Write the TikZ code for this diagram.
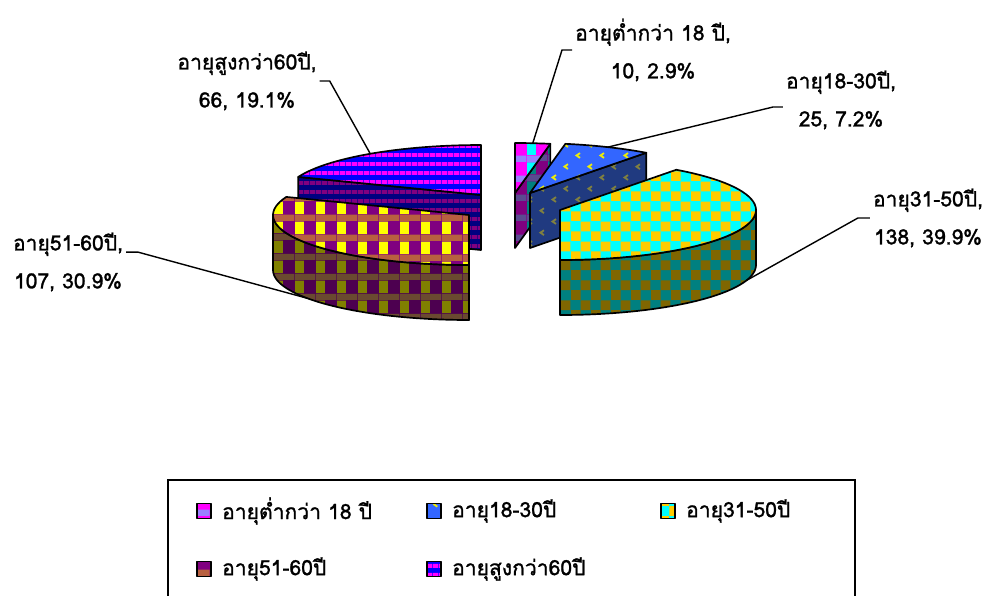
\documentclass[tikz,border=0pt]{standalone}
\usepackage{fontspec}
\setmainfont[Script=Thai]{Loma}
\newfontfamily\thaifont[Script=Thai, FakeBold=1.2]{Loma}
\usetikzlibrary{positioning, patterns.meta}

\definecolor{mag}{HTML}{FF00FF}
\definecolor{cyn}{HTML}{00FFFF}
\definecolor{lav}{HTML}{9A80FF}
\definecolor{purp}{HTML}{800080}
\definecolor{tealc}{HTML}{008080}
\definecolor{dkmix}{HTML}{5A4A90}
\definecolor{blu}{HTML}{3366FF}
\definecolor{navyb}{HTML}{203A80}
\definecolor{ylw}{HTML}{FFFF00}
\definecolor{oliv}{HTML}{808040}
\definecolor{gold}{HTML}{FFCC00}
\definecolor{brwn}{HTML}{806600}
\definecolor{rose}{HTML}{B86040}
\definecolor{dkpurp}{HTML}{4D0050}
\definecolor{olive2}{HTML}{808000}
\definecolor{mud}{HTML}{6A4A30}
\definecolor{blue2}{HTML}{0000FF}
\definecolor{navy2}{HTML}{000080}

% fill textures
\tikzdeclarepattern{name=checks, bottom left={(0pt,0pt)}, top right={(14pt,14pt)},
  tile size={(14pt,14pt)},
  code={\tikzset{x=1pt,y=1pt} \fill (0,0) rectangle (7,7); \fill (7,7) rectangle (14,14);}}
\tikzdeclarepattern{name=bands, bottom left={(0pt,0pt)}, top right={(4pt,6.5pt)},
  tile size={(4pt,6.5pt)},
  code={\tikzset{x=1pt,y=1pt} \fill (0,0) rectangle (4,3);}}
\tikzdeclarepattern{name=blocks, bottom left={(0pt,0pt)}, top right={(15pt,14pt)},
  tile size={(15pt,14pt)},
  code={\tikzset{x=1pt,y=1pt} \fill (0,5) rectangle (6.5,14);}}
\tikzdeclarepattern{name=dband, bottom left={(0pt,0pt)}, top right={(15pt,14pt)},
  tile size={(15pt,14pt)},
  code={\tikzset{x=1pt,y=1pt} \fill (0,0) rectangle (15,4.5);}}
\tikzdeclarepattern{name=marks, bottom left={(0pt,0pt)}, top right={(17pt,15.5pt)},
  tile size={(17pt,15.5pt)},
  code={\tikzset{x=1pt,y=1pt}
    \draw[line width=1.3pt] (5,0.8) -- (2.5,2.5) -- (5,4.2);
    \draw[line width=1.3pt] (13.5,8.55) -- (11,10.25) -- (13.5,11.95);}}

\tikzset{
  face/.style={draw=black, line width=1.2pt, line join=round},
  top1/.style={face, preaction={fill=mag}, preaction={pattern=blocks, pattern color=cyn},
    preaction={pattern=dband, pattern color=lav}},
  side1/.style={face, preaction={fill=purp}, preaction={pattern=blocks, pattern color=tealc},
    preaction={pattern=dband, pattern color=dkmix}},
  top2/.style={face, preaction={fill=blu}, preaction={pattern=marks, pattern color=ylw!85!oliv}},
  side2/.style={face, preaction={fill=navyb}, preaction={pattern=marks, pattern color=oliv}},
  top3/.style={face, preaction={fill=cyn}, preaction={pattern=checks, pattern color=gold}},
  side3/.style={face, preaction={fill=tealc}, preaction={pattern=checks, pattern color=brwn}},
  top4/.style={face, preaction={fill=purp}, preaction={pattern=blocks, pattern color=ylw},
    preaction={pattern=dband, pattern color=rose}},
  side4/.style={face, preaction={fill=dkpurp}, preaction={pattern=blocks, pattern color=olive2},
    preaction={pattern=dband, pattern color=mud}},
  top5/.style={face, preaction={fill=blue2}, preaction={pattern=bands, pattern color=mag}},
  side5/.style={face, preaction={fill=navy2}, preaction={pattern=bands, pattern color=purp}},
  lbl/.style={align=center, inner sep=2pt, font=\thaifont\fontsize{15}{27}\selectfont},
  lead/.style={line width=1pt},
  swatch/.style={rectangle, minimum width=0.35cm, minimum height=0.38cm, inner sep=0pt, line width=1pt},
  legtxt/.style={inner sep=0pt, font=\thaifont\fontsize{15}{17}\selectfont}
}

\def\rx{196}
\def\ry{50}
\def\dep{55}

\begin{document}
\begin{tikzpicture}[x=0.025cm, y=-0.025cm]
\useasboundingbox (0,0) rectangle (990,595);

% slices, back to front
% over 60
\path[side5] (481,195) -- ({481+\rx*sin(-68.8)},{195-\ry*cos(-68.8)}) -- ++(0,\dep) -- (481,250) -- cycle;
\path[top5] (481,195) -- plot[domain=-68.8:0, samples=30] ({481+\rx*sin(\x)},{195-\ry*cos(\x)}) -- cycle;
% under 18
\path[side1] (515,193) -- ({515+\rx*sin(10.4)},{193-\ry*cos(10.4)}) -- ++(0,\dep) -- (515,248) -- cycle;
\path[top1] (515,193) -- plot[domain=0:10.4, samples=8] ({515+\rx*sin(\x)},{193-\ry*cos(\x)}) -- cycle;
% 18-30
\path[side2] (530,193) -- ({530+\rx*sin(36.4)},{193-\ry*cos(36.4)}) -- ++(0,\dep) -- (530,248) -- cycle;
\path[top2] (530,193) -- plot[domain=10.4:36.4, samples=15] ({530+\rx*sin(\x)},{193-\ry*cos(\x)}) -- cycle;
% 31-50
\path[side3] plot[domain=90:180, samples=40] ({560+\rx*sin(\x)},{210-\ry*cos(\x)})
  -- plot[domain=180:90, samples=40] ({560+\rx*sin(\x)},{210+\dep-\ry*cos(\x)}) -- cycle;
\path[top3] (560,210) -- plot[domain=36.4:180, samples=50] ({560+\rx*sin(\x)},{210-\ry*cos(\x)}) -- cycle;
% 51-60
\path[side4] plot[domain=180:270, samples=40] ({469+\rx*sin(\x)},{215-\ry*cos(\x)})
  -- plot[domain=270:180, samples=40] ({469+\rx*sin(\x)},{215+\dep-\ry*cos(\x)}) -- cycle;
\path[top4] (469,215) -- plot[domain=180:291.2, samples=40] ({469+\rx*sin(\x)},{215-\ry*cos(\x)}) -- cycle;

% leader ends on the slices
\coordinate (p1) at ({515+\rx*sin(5.2)},{193-\ry*cos(5.2)});
\coordinate (p2) at ({530+\rx*sin(23.4)},{193-\ry*cos(23.4)});
\coordinate (p3) at ({560+\rx*sin(108)},{210+\dep-\ry*cos(108)});
\coordinate (p4) at ({469+\rx*sin(235.6)},{215+\dep-\ry*cos(235.6)});
\coordinate (p5) at ({481+\rx*sin(325.6)},{195-\ry*cos(325.6)});

% data labels
\node[lbl] (l1) at (653,50) {อายุต่ำกว่า 18 ปี,\\10, 2.9\%};
\node[lbl] (l2) at (841,100) {อายุ18-30ปี,\\25, 7.2\%};
\node[lbl] (l3) at (928,218) {อายุ31-50ปี,\\138, 39.9\%};
\node[lbl] (l4) at (68,262) {อายุ51-60ปี,\\107, 30.9\%};
\node[lbl] (l5) at (247,81) {อายุสูงกว่า60ปี,\\66, 19.1\%};
\draw[lead] (l1.west) -- ++(-10,0) -- (p1);
\draw[lead] ([yshift=-5pt]l2.west) -- ++(-10,0) -- (p2);
\draw[lead] (l3.west) -- ++(-12,0) -- (p3);
\draw[lead] ([yshift=7pt]l4.east) -- ++(12,0) -- (p4);
\draw[lead] (l5.east) -- ++(10,0) -- (p5);

% legend
\draw[line width=1.3pt] (168,480) rectangle (855,620);
\node[swatch, top1] (s1) at (204,511) {};
\node[legtxt, right=0.25cm of s1] (t1) {อายุต่ำกว่า 18 ปี};
\node[swatch, top2] (s2) at (434,511) {};
\node[legtxt, right=0.25cm of s2] (t2) {อายุ18-30ปี};
\node[swatch, top3] (s3) at (668,511) {};
\node[legtxt, right=0.25cm of s3] (t3) {อายุ31-50ปี};
\node[swatch, top4] (s4) at (204,569) {};
\node[legtxt, right=0.25cm of s4] (t4) {อายุ51-60ปี};
\node[swatch, top5] (s5) at (434,569) {};
\node[legtxt, right=0.25cm of s5] (t5) {อายุสูงกว่า60ปี};
\end{tikzpicture}
\end{document}
